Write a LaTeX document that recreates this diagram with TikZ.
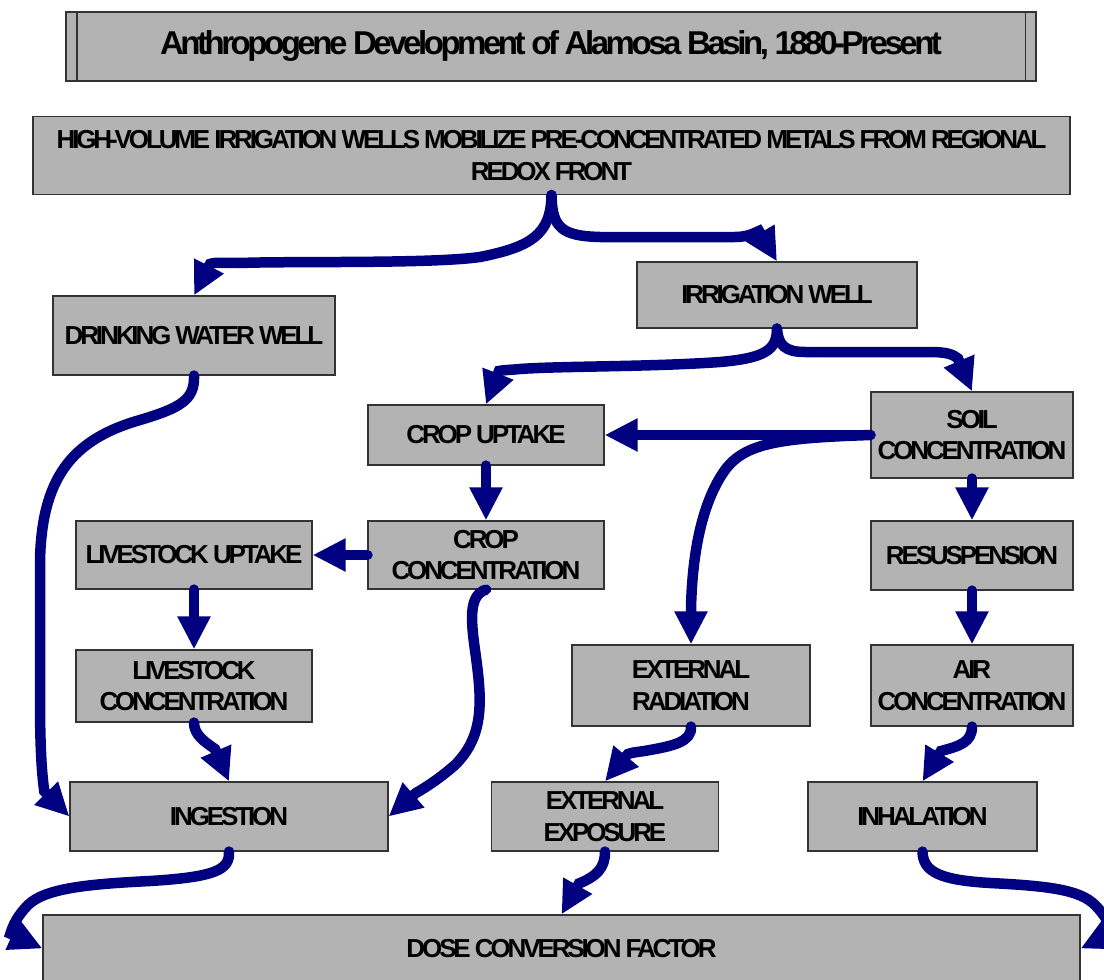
\documentclass[tikz,border=0pt]{standalone}
\usepackage{fontspec}
\usetikzlibrary{arrows.meta}
\setmainfont{Liberation Sans}
\newfontfamily\caixafont{Liberation Sans}[LetterSpace=-12]
\newfontfamily\titulofont{Liberation Sans}[LetterSpace=-10.5]
\definecolor{azulseta}{RGB}{0,0,128}
\definecolor{cinzacaixa}{RGB}{179,179,179}
\definecolor{bordacaixa}{RGB}{51,51,51}

\begin{document}
\begin{tikzpicture}[x=1pt, y=-1pt, >={Triangle[width=31pt,length=33pt]},
    caixa/.style={draw=bordacaixa, line width=1.2pt, fill=cinzacaixa, align=center, inner sep=0pt,
        font=\caixafont\bfseries\fontsize{26}{31.5}\selectfont},
    seta/.style={->, draw=azulseta, line width=10.5pt, line cap=round}]
    \useasboundingbox (0,0) rectangle (1104,980);

    % Titulo
    \node [caixa, minimum width=970pt, minimum height=69pt,
        font=\titulofont\bfseries\fontsize{33}{38}\selectfont] (titulo) at (551,46.5)
        {Anthropogene Development of Alamosa Basin, 1880-Present};
    \draw [bordacaixa, line width=1.2pt] ([xshift=11.5pt]titulo.north west) -- ([xshift=11.5pt]titulo.south west);
    \draw [bordacaixa, line width=1.2pt] ([xshift=-11.5pt]titulo.north east) -- ([xshift=-11.5pt]titulo.south east);

    % Caixas
    \node [caixa, minimum width=1037pt, minimum height=78pt] (fonte) at (551.5,155.5)
        {HIGH-VOLUME IRRIGATION WELLS MOBILIZE PRE-CONCENTRATED METALS FROM REGIONAL\\REDOX FRONT};
    \node [caixa, minimum width=282pt, minimum height=79pt] (potavel) at (194,335.5) {DRINKING WATER WELL};
    \node [caixa, minimum width=280pt, minimum height=66pt] (irrigacao) at (777,295) {IRRIGATION WELL};
    \node [caixa, minimum width=236pt, minimum height=60pt] (absorcao) at (486,435) {CROP UPTAKE};
    \node [caixa, minimum width=202pt, minimum height=86pt] (solo) at (972,435) {SOIL\\CONCENTRATION};
    \node [caixa, minimum width=236pt, minimum height=68pt] (absgado) at (194,555) {LIVESTOCK UPTAKE};
    \node [caixa, minimum width=236pt, minimum height=68pt] (cultura) at (486,555) {CROP\\CONCENTRATION};
    \node [caixa, minimum width=202pt, minimum height=69pt] (ressusp) at (972,555.5) {RESUSPENSION};
    \node [caixa, minimum width=236pt, minimum height=72pt] (gado) at (194,686) {LIVESTOCK\\CONCENTRATION};
    \node [caixa, minimum width=238pt, minimum height=81pt] (radiacao) at (691,685.5) {EXTERNAL\\RADIATION};
    \node [caixa, minimum width=202pt, minimum height=81pt] (ar) at (972,685.5) {AIR\\CONCENTRATION};
    \node [caixa, minimum width=318pt, minimum height=69pt] (ingestao) at (229,816.5) {INGESTION};
    \node [caixa, minimum width=227pt, minimum height=69pt] (exposicao) at (605,816.5) {EXTERNAL\\EXPOSURE};
    \node [caixa, minimum width=229pt, minimum height=69pt] (inalacao) at (922.5,816.5) {INHALATION};
    \node [caixa, minimum width=1037pt, minimum height=67pt] (dose) at (561.5,948.5) {DOSE CONVERSION FACTOR};

    % Setas dos pocos
    \draw [seta] (fonte.south) .. controls (551,235) and (530,247) .. (480,257)
        .. controls (430,264) and (290,261) .. (240,263) .. controls (225,263) and (215,262) .. (210,264)
        -- (potavel.north);
    \draw [seta] (fonte.south) .. controls (552,228) and (562,236) .. (600,237) -- (735,237)
        .. controls (748,237) and (754,233) .. (759,231) -- (irrigacao.north);
    \draw [seta] (irrigacao.south) .. controls (777,350) and (765,358) .. (720,362)
        .. controls (650,367) and (560,366) .. (520,369) .. controls (510,370) and (503,370) .. (499,371)
        -- (absorcao.north);
    \draw [seta] (irrigacao.south) .. controls (778,345) and (785,352) .. (805,352) -- (930,352)
        .. controls (945,352) and (953,354) .. (958,358.5) -- (solo.north);

    % Setas do solo
    \draw [seta] (solo.west) -- (absorcao.east);
    \draw [seta] (solo.west) .. controls (780,438) and (745,443) .. (725,470)
        .. controls (700,505) and (692,560) .. (691,609) -- (radiacao.north);
    \draw [seta] (solo.south) -- (ressusp.north);
    \draw [seta] (ressusp.south) -- (ar.north);

    % Setas das culturas e do gado
    \draw [seta] (absorcao.south) -- (cultura.north);
    \draw [seta] (cultura.west) -- (absgado.east);
    \draw [seta] (absgado.south) -- (gado.north);
    \draw [seta] (gado.south) .. controls (194,735) and (205,742) .. (215,749) -- (ingestao.north);
    \draw [seta] (potavel.south) .. controls (195,400) and (180,408) .. (140,420)
        .. controls (70,440) and (42,480) .. (40,560) -- (40,700)
        .. controls (40,750) and (42,775) .. (44.3,791.3) -- (ingestao.west);
    \draw [seta] (cultura.south) .. controls (470,595) and (470,615) .. (475,650)
        .. controls (482,700) and (485,735) .. (455,765) .. controls (440,778) and (428,786) .. (415.5,793.3)
        -- (ingestao.east);

    % Setas de exposicao
    \draw [seta] (radiacao.south) .. controls (692,742) and (672,746) .. (650,750)
        .. controls (640,752) and (633,752) .. (628,754) -- (exposicao.north);
    \draw [seta] (ar.south) .. controls (972,742) and (960,746) .. (941,751) -- (inalacao.north);

    % Setas para a dose
    \draw [seta] (ingestao.south) .. controls (230,870) and (215,877) .. (150,881)
        .. controls (90,884) and (45,888) .. (28,905) .. controls (18,915) and (13,925) .. (10.4,933.7)
        -- (dose.west);
    \draw [seta] (exposicao.south) .. controls (605,868) and (597,876) .. (579,883.5) -- (dose.north);
    \draw [seta] (inalacao.south) .. controls (923,872) and (940,880) .. (990,883)
        .. controls (1050,886) and (1080,890) .. (1095,905) .. controls (1105,915) and (1110,925) .. (1112.6,933)
        -- (dose.east);
\end{tikzpicture}
\end{document}
